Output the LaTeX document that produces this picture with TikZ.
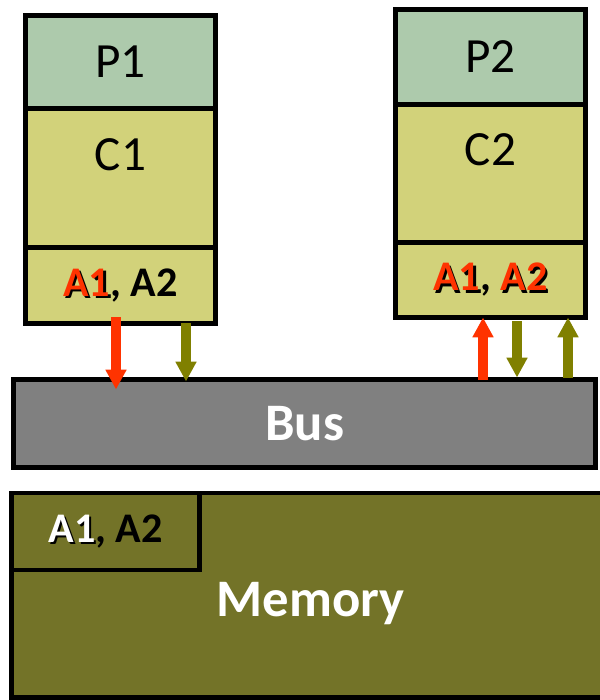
\documentclass[tikz,border=0pt]{standalone}
\usepackage{fontspec}
\setmainfont{Carlito}
\usetikzlibrary{arrows.meta,positioning,calc}
\definecolor{procgreen}{HTML}{ADCAAC}
\definecolor{cacheyellow}{HTML}{D2D27A}
\definecolor{busgray}{HTML}{808080}
\definecolor{memolive}{HTML}{737328}
\definecolor{hotred}{HTML}{FF3300}
\definecolor{arrowolive}{HTML}{808000}
\newcommand{\shadowed}[2]{\rlap{\kern1.3pt\raisebox{-1.3pt}{\textcolor{black}{#2}}}\textcolor{#1}{#2}}

\begin{document}
\begin{tikzpicture}[x=0.02cm,y=-0.02cm,
  blk/.style={draw=black,line width=2.83pt,inner sep=0pt,outer sep=0pt,minimum width=3.8cm},
  redarr/.style={draw=hotred,line width=5.67pt,-{Triangle[width=11.3pt,length=11.3pt]}},
  olivearr/.style={draw=arrowolive,line width=5.67pt,-{Triangle[width=11.3pt,length=11.3pt]}}]
  \useasboundingbox (0,0) rectangle (599,700);
  % left processor
  \node[blk,fill=procgreen,minimum height=1.86cm,anchor=north,font=\fontsize{28}{30}\selectfont] (p1) at (120.5,15.5) {P1};
  \node[blk,fill=cacheyellow,minimum height=2.78cm,below=0pt of p1] (c1) {};
  \node[font=\fontsize{28}{30}\selectfont] (c1lbl) at (120.5,155) {C1};
  \node[blk,fill=cacheyellow,minimum height=1.52cm,below=0pt of c1,font=\fontsize{24}{26}\bfseries] (a1row) {\shadowed{hotred}{A1}, A2};
  % right processor
  \node[blk,fill=procgreen,minimum height=1.9cm,anchor=north,font=\fontsize{28}{30}\selectfont] (p2) at (490.5,9.5) {P2};
  \node[blk,fill=cacheyellow,minimum height=2.76cm,below=0pt of p2] (c2) {};
  \node[font=\fontsize{28}{30}\selectfont] (c2lbl) at (490.5,150) {C2};
  \node[blk,fill=cacheyellow,minimum height=1.5cm,below=0pt of c2,font=\fontsize{24}{26}\bfseries] (a2row) {\shadowed{hotred}{A1}\textcolor{black}{,} \shadowed{hotred}{A2}};
  % bus and memory
  \node[blk,fill=busgray,minimum width=11.65cm,minimum height=1.76cm,text=white,font=\fontsize{30}{32}\bfseries] (bus) at (304.75,423.5) {Bus};
  \node[blk,fill=memolive,minimum width=11.97cm,minimum height=4.1cm,anchor=north west,text=white,font=\fontsize{30}{32}\bfseries,text depth=0pt] (mem) at (11.5,493) {\raisebox{-0.15cm}{Memory}};
  \node[blk,fill=memolive,minimum width=3.77cm,minimum height=1.54cm,anchor=north west,font=\fontsize{24}{26}\bfseries] (mema) at (mem.north west) {\shadowed{white}{A1}, A2};
  % connectors
  \coordinate (xl1) at (116,0);
  \coordinate (xl2) at (186,0);
  \coordinate (xr1) at (483,0);
  \coordinate (xr2) at (517,0);
  \coordinate (xr3) at (568,0);
  \draw[redarr] ($(a1row.south -| xl1)+(0,-6)$) -- ($(bus.north -| xl1)+(0,10)$);
  \draw[olivearr] (a1row.south -| xl2) -- ($(bus.north -| xl2)+(0,2)$);
  \draw[redarr] (bus.north -| xr1) -- (a2row.south -| xr1);
  \draw[olivearr] ($(a2row.south -| xr2)+(0,4)$) -- ($(bus.north -| xr2)+(0,-2)$);
  \draw[olivearr] ($(bus.north -| xr3)+(0,-2)$) -- (a2row.south -| xr3);
\end{tikzpicture}
\end{document}
